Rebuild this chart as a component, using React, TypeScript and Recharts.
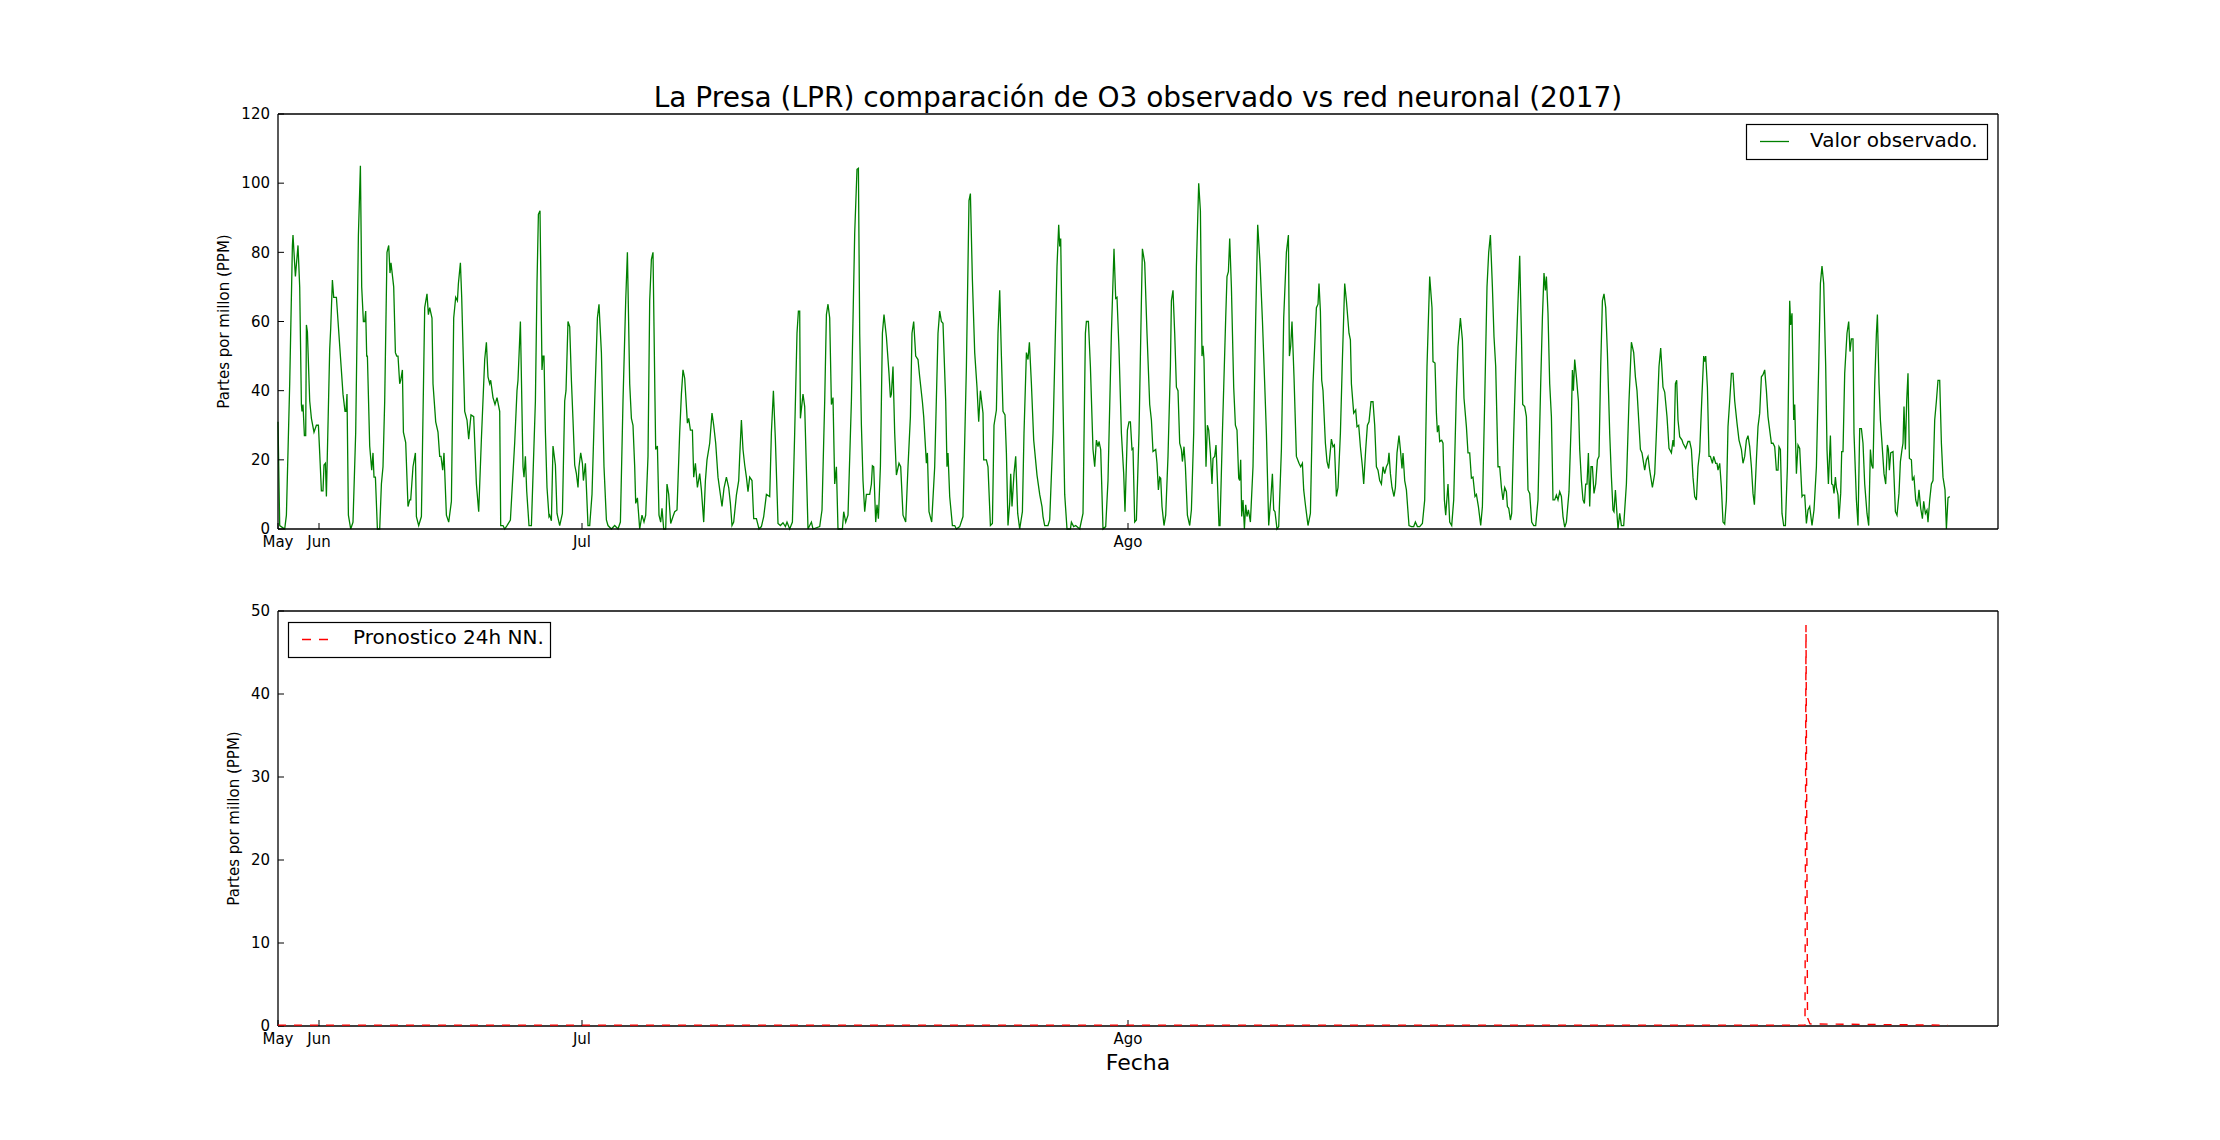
import React from 'react';
import { LineChart, Line, XAxis, YAxis } from 'recharts';

// x = sample index along the series, y = ozone (PPM)
const monthTicks = [0, 41, 304, 850];
const monthLabels = ['May', 'Jun', 'Jul', 'Ago'];
const obsTicks = [0, 20, 40, 60, 80, 100, 120];
const nnTicks = [0, 10, 20, 30, 40, 50];

const observado: [number, number][] = [
  [0.0,31],[1.7,1],[6.7,0],[8.4,4],[11.7,42],[14.4,82],[15.0,85],[17.4,73],[20.0,82],[21.7,70],[23.4,36],[24.0,34],[25.0,36],[26.4,27],[27.7,27],[28.4,59],[29.4,57],[31.7,37],[33.4,32],[36.0,28],[38.4,30],[40.4,30],[41.7,22],[43.4,11],[45.0,11],[46.0,18.5],[47.4,19],[48.4,9.4],[51.7,52],[52.7,58],[54.4,72],[55.7,67],[57.0,67],[58.4,67],[61.7,53],[65.0,39],[67.0,34],[68.0,34],[69.0,39],[70.4,4],[72.7,0],[75.0,2],[77.7,28],[80.4,85],[82.4,105],[83.7,70],[85.4,60],[86.7,60],[87.7,63],[88.7,50],[89.4,50],[91.7,24],[93.7,17],[95.0,22],[96.0,15],[97.4,15],[99.4,0],[101.7,0],[103.4,13],[105.0,18],[106.7,37],[109.0,80],[110.7,82],[112.0,74],[113.0,77],[115.7,70],[117.4,51],[118.7,50],[120.0,50],[121.7,42],[122.7,43],[124.4,46],[125.4,28],[127.7,25],[130.0,6.5],[131.7,8.4],[132.7,8.4],[135.0,18],[137.4,22],[138.4,3.6],[140.7,1],[143.4,3.6],[146.7,64],[149.0,68],[150.4,62],[151.7,64],[154.0,61],[155.0,42],[157.7,31],[160.0,28],[161.7,21],[163.0,21],[164.7,17],[166.0,22],[168.4,4],[170.7,2],[173.4,8],[175.7,61],[177.7,67],[179.4,66],[180.4,71],[182.4,77],[183.7,67],[186.7,34],[189.0,31.5],[190.7,26],[193.0,33],[195.7,32.5],[198.4,13],[200.7,5],[203.4,26],[206.7,49],[208.4,54],[210.0,44],[211.7,42],[212.7,43],[215.0,38],[217.0,36],[219.0,38],[221.7,34],[222.7,1],[225.0,1],[226.7,0],[229.0,1],[232.4,2.6],[236.7,25],[239.0,40],[240.0,43],[242.4,60],[245.0,18],[246.0,15],[247.4,21],[248.7,11],[251.0,1],[253.4,1],[257.4,37],[259.0,71],[260.4,91],[262.0,92],[264.0,46],[265.0,50],[266.0,50],[267.4,28],[269.0,12],[271.0,3.6],[271.7,4],[273.4,2.4],[275.0,24],[277.4,18.5],[279.0,4.5],[281.7,1],[284.4,4.5],
  [286.7,37],[288,40],[290,60],[291.7,58.5],[293.4,43],[295,31.5],[296.7,18.5],[298.4,16],[300,12],[301,18],[302.7,22],[304.4,19],[305.4,14],[307.4,19],[310,1],[311.7,1],[314,10],[316.7,37],[319.4,61],[321,65],[323.4,51],[326,18],[328.4,2.6],[330,1],[333.4,0],[336.7,1],[340,0],[342.4,2],[345,37],[347.7,66],[349.4,80],[351.7,42],[353.4,32],[355,30],[356.7,18],[357.7,7.4],[359.4,9],[361.7,0],[364,4],[366,2],[367.7,4],[370,21],[371.7,66],[373.4,78],[375,80],[377,37],[377.7,23],[379.4,24],[381,4],[382.7,2],[384,6],[385.7,0],[387.7,0],[389,13],[390.7,10],[392.7,1.6],[395,3.6],[396.7,5],[399,5.5],[401.7,28],[403.4,39],[405,46],[406.7,43.6],[409.4,30.6],[410.7,32],[412.4,28.6],[414.4,28.6],[415.7,15],[417.4,19],[419.4,12],[421.7,16],[423.4,11.3],[425.7,2],[427.4,14],[429,20],[431.7,24.8],[434,33.5],[435.7,30],[437.7,24.8],[440,15],[444,6.5],[446,11.8],[448.4,15],[450.7,12],[452.4,7.4],[454,1],[455.7,2],[458.4,9.8],[460.7,14],[461.7,21],[463.4,31.5],[465,23],[466.7,18.5],[468.4,15],[470,10.8],[471.7,15],[474,14],[475.7,3],[478.4,3],[481,0],[483.4,0.7],[485.7,3.6],[488.4,10],[491.7,9.4],[493.4,28],[495.4,40],[497.4,25.7],[500,1.6],[502.4,1],[505,1.8],[507.4,0.7],[509,2],[511.7,0],[514.4,2],[516.7,28],[519,56.6],[520.4,63],[521.7,63],[522.4,32],[525,39],[526.7,35.4],[530,0],[533.4,2],[535,0],[541.7,0.7],[544,5.5],[546.7,37],[548.4,62],[550,65],[551.7,61],[553.4,36],[555,38],[556.7,13],[558.4,18],[560,0],[564.4,0],[565.7,5],[567.7,2],[570,4],[573.4,37],[576.7,85.5],[579,104],[580.4,104.3],
  [581.7,56.6],[583.4,30],[585,14],[586.7,5],[588.4,10],[591.7,10],[593.4,13],[594.4,18.3],[595.7,18],[597.7,2],[599,7],[600.4,3],[602.4,18],[604.4,56.6],[606,62],[608.4,55.6],[611,45],[612.4,38],[613.4,39],[615,47],[616.7,27.7],[618.4,15.6],[621,19],[622.7,18],[625,4],[627.7,2],[630,18],[632.4,32.5],[634,56.6],[635.7,60],[637.7,50],[640,49],[641.7,44],[644.4,36.8],[645.7,32.5],[648.4,19],[649.4,22],[651,5],[653.7,2],[656.7,18],[660,56.6],[661.7,63],[663.4,60],[665,59.5],[667.7,37],[669,18],[670,22],[671.7,9.4],[674.4,1],[676.7,1],[678.4,0],[681.7,0.7],[685,3.6],[688.4,47],[691,95],[692.4,97],[694.4,72],[696.7,51],[699,41],[700.7,31],[702.4,40],[705,33.5],[705.7,20],[708.4,20],[710,18],[712.4,1],[714.4,1.6],[716,30],[718.4,34.4],[720,56.6],[721.7,69],[723.4,50],[725,34],[727,33],[728.4,22],[730,1],[731.7,7.4],[732.7,16],[734,6.5],[736,16],[737.7,21],[739.7,4.5],[741.7,0],[744.4,5],[746,27.7],[748.4,51],[750,49],[751.4,54],[753.4,42],[755.7,25.7],[759,15.6],[761.7,10],[764,6.5],[765,3.6],[766.7,1],[770,1],[771.7,2.6],[775,27.7],[779,76],[780.7,88],[781.7,81.7],[782.7,84],[785,37],[786.7,10],[789,0],[792.4,0],[793.4,2],[795.7,0.7],[797.7,1],[801.7,0],[805,4.5],[807.4,56.6],[808.4,60],[810.4,60],[812.4,47],[815,23],[816.7,18],[818.4,25.7],[820,23.8],[821,25.3],[822.7,23],[825,0],[827.7,0.7],[830,14],[833.4,56.6],[836,81],[837.7,66.7],[839,67],[841,52],[843.4,27.7],[845.7,16],[847,5],[849.4,28.6],[851,31],[852.4,31],[854,23],[855,23.3],[856.7,2],[858.4,2.6],[861,27.7],[863.4,66],[864.4,81],[866.7,77],[869,56.6],[871.7,36],
  [873.4,31.5],[875,22.4],[877.7,23],[879,19],[880.4,11.3],[881.7,15],[882.7,14.7],[884,6.5],[886,1],[887.7,4],[890,21],[892.4,47],[893.4,66],[895,69],[896.7,56.6],[898.4,41],[900,40],[901.7,24.8],[903.4,23],[904.4,19.5],[906,23.8],[907.4,18],[909.4,4],[911.7,1],[913.4,5.5],[915.7,27.7],[918.4,76],[920.7,100],[922.4,92],[924,50],[925,53],[926,49],[928,18],[929.4,30],[930.7,28.6],[932.4,22],[934,13],[935,20.4],[936.7,21],[938,24.3],[939.4,14],[941,1],[942,1],[944.4,27.7],[947.7,61],[949,73],[950.4,74.4],[951.7,84],[953.4,70],[955.7,41],[957.4,30],[959,28.6],[960.7,14.7],[961.7,14],[962.7,20],[963.7,3.6],[965,8.4],[966.4,0],[967.7,7],[969,3.6],[970.4,5.5],[972.4,2],[975,18],[977.7,61],[979.7,88],[982,77],[984.4,60.5],[986.7,42],[988.4,27.7],[990.7,1],[992.7,8.4],[994.4,16],[995.7,5.5],[997,5],[999,0],[1000.7,0.7],[1003.4,23],[1005.7,61],[1008.4,80],[1010.4,85],[1011.4,50],[1012.7,53],[1014,60],[1016,44],[1018.4,21],[1021,19],[1022.7,18],[1024.4,19],[1025.7,11.3],[1027.4,7],[1030,1],[1032.4,4.5],[1035,42],[1038.4,64],[1040,65],[1041,71],[1042.4,63],[1043.7,43],[1045,40],[1047.4,24.8],[1049,19.5],[1050.7,17.5],[1053.4,26],[1055,23.8],[1056.4,24.3],[1058.4,9.4],[1060,12],[1062.4,27.7],[1064.4,49],[1066.7,71],[1068.4,66],[1071,56.6],[1072.4,54.7],[1073.4,42],[1075.7,33.5],[1077.7,34.4],[1079,29.6],[1080.7,30],[1082.4,23.8],[1084.4,18],[1085.7,13],[1087.7,23],[1089.4,30],[1091,31],[1093,36.8],[1095,36.8],[1096.7,30],[1098.4,18],[1100,17],[1101.7,14],[1103.4,13],[1105,18],[1106.7,16],[1108.4,18],[1110,19],[1111,22],[1112.4,16],[1114,12],[1116,9.4],[1117.4,12],[1119,22],[1121,27],[1122.4,23],[1124,17.5],[1125,22],[1126.7,14],[1128.4,11.3],[1131,1],[1133.4,0.7],[1135.7,0.7],[1137.4,2],[1139.4,0.7],[1141.7,0.7],[1144.4,1.6],[1146.7,8.4],[1149,47],[1151.7,73],[1154,64],[1155,48.4],[1157,48],[1158.4,33.5],[1159.4,28],[1160.7,30],
  [1161.7,25.3],[1163.7,25.7],[1165,24.8],[1166.4,8.4],[1167.7,4],[1170,13],[1171.7,2],[1173.7,1],[1175.7,8.4],[1178.4,40],[1180,52.7],[1182.4,61],[1184.4,54.7],[1186,37.8],[1188.4,29.6],[1190,22],[1191.7,22],[1193.4,14.7],[1195,15],[1197,9.4],[1198.4,10],[1200.4,6.5],[1202.7,1],[1204.4,6.5],[1206.7,37],[1209,70],[1210.7,80],[1212.4,85],[1214.4,70],[1216,55.6],[1217.7,47],[1220,18],[1221.7,18],[1223.4,12],[1225,8.4],[1226.7,12],[1228.4,10.8],[1229.4,6.5],[1230.7,6],[1232.4,2.6],[1233.7,4.5],[1235.7,27.7],[1237.7,47],[1239.4,61],[1241.7,79],[1243.4,56.6],[1244.7,36],[1246.7,35.4],[1248.4,32.5],[1250,11.3],[1251.7,10.3],[1253.7,2],[1255.7,1],[1257.7,1],[1260,8.4],[1262.7,42],[1264.4,61],[1266,74],[1267.4,69],[1268.4,73],[1270,62.4],[1271.7,42],[1273.4,32.5],[1275,8.4],[1276.7,8.4],[1278.4,9.8],[1280,8.4],[1281.7,10.8],[1283.4,9.4],[1285,3.6],[1286.7,0.5],[1288.4,2],[1291,10.8],[1293.4,32.5],[1294.4,46],[1295.4,40],[1296.7,49],[1298.4,44],[1300.4,37],[1301.7,23],[1303.4,14],[1305,8.4],[1306.4,7.4],[1307.7,13],[1309,13],[1310.4,22],[1311.7,6.5],[1313,18],[1314.4,18],[1316,10.3],[1317.7,13],[1319.4,20],[1321,21],[1322.7,47],[1324.4,66],[1326,68],[1327.7,64],[1329.4,51],[1331.7,27.7],[1333.4,15],[1335,5.5],[1336,5],[1337.4,11.3],[1338.7,5.5],[1340,0],[1341.7,4.5],[1343.4,1],[1345.7,1],[1348.4,13],[1351,37],[1353.4,54],[1355.7,51],[1357.4,44],[1359,40],[1360.7,31.5],[1362.4,23],[1364,22],[1366.7,17],[1368.4,20],[1370,21],[1371.7,17],[1374.4,12],[1376.7,16],[1378.4,27.7],[1381,47],[1382.7,52.3],[1385,41],[1386.7,39.6],[1389,32.5],[1391,23.3],[1393.4,22],[1395,25.7],[1396,23.8],[1397.4,42],[1398.7,43],[1400,31.5],[1401.7,26.7],[1404,25.7],[1405,24.8],[1407.7,23.3],[1410,25.3],[1411.7,25.3],[1413.4,23],[1415,15],[1416.7,9.4],[1418.4,8.4],[1420,18],[1421.7,22.4],[1424,39],[1425.7,50],[1426.7,48.4],[1427.7,50],[1429.4,41],[1431,21],[1432.4,21],[1433.4,20],[1434.4,19],[1435.7,21],[1437.7,19],[1439,19],[1440,17],[1441.7,19],
  [1443.4,12],[1445,2],[1446.7,1.4],[1448.4,8.4],[1450,29.6],[1451.7,37],[1453.4,45],[1455,45],[1456.7,37],[1459,30.6],[1461,25.7],[1463.4,23],[1465,19],[1466.7,21],[1468.4,25.7],[1470,27],[1471.7,23.8],[1473.4,18],[1475,10.3],[1476.4,7],[1478.4,20],[1480,29.6],[1481.7,33.5],[1483.4,44],[1485,44.6],[1486.7,46],[1488.4,40],[1490,32.5],[1491.7,28.6],[1493.4,24.8],[1495,24.8],[1496.7,23.8],[1498.4,17],[1500,17],[1501,23.8],[1502.4,23],[1504,4.5],[1505.7,1],[1507.4,1],[1509.4,18],[1511.7,66],[1512.7,59],[1514,62.4],[1515.7,31.5],[1516.7,36],[1518.4,16],[1520,24.3],[1521.7,23.3],[1524,9.4],[1525,9.8],[1526.7,9.8],[1528.4,1.6],[1530,5.5],[1531.7,6.5],[1534,1],[1536,5.5],[1538.4,18],[1540.7,47],[1542.4,71],[1544,76],[1545.7,71],[1547.7,47],[1549,23],[1550.4,13],[1552.4,27],[1553.7,13],[1555,12.7],[1556,10.3],[1557.4,15],[1558.4,12],[1560,9.8],[1561,3],[1562.7,10.3],[1563.7,22.4],[1565,22.4],[1566.7,45],[1569,56.6],[1570.7,60],[1572,51.3],[1573.4,55],[1575,55],[1576,27.7],[1578.4,8.4],[1580,1],[1581.7,29],[1583.4,29],[1585,24.8],[1586.7,13],[1589,4.5],[1590.7,1],[1592.4,23],[1593.7,18.5],[1595,17.5],[1596.7,42],[1598.4,56.6],[1599.4,62],[1601,42],[1602.4,31.5],[1604.4,23],[1606,16],[1607.7,13],[1609.4,24.3],[1610.4,23],[1611.4,17],[1612.7,22],[1615,22.4],[1617.4,5],[1619,4],[1621,10.3],[1622.4,19.5],[1624,23],[1625,24.8],[1626,35.4],[1627.4,23],[1628.7,37],[1630,45],[1631.4,20.4],[1633.4,20],[1634.4,14],[1636,15],[1637.7,8.4],[1639.4,6.5],[1641,11.3],[1642.7,6],[1644.4,3],[1645.7,8],[1647.4,4.5],[1649,5.5],[1650,2],[1651.7,8.4],[1653.4,13],[1655,14],[1656.7,31.5],[1658.4,37],[1660,43],[1661.7,43],[1663.4,24.8],[1665,15],[1667,11.3],[1668.4,0],[1670,9],[1671.7,9.4],
];

// forecast sits just above zero except for one spike
const pronostico: [number, number][] = [
  [0, 0.1], [1527, 0.1], [1528, 48.3], [1529.5, 1], [1532, 0.25], [1670, 0.1],
];

const obsData = observado.map(([i, v]) => ({ i, v }));
const nnData = pronostico.map(([i, v]) => ({ i, v }));

const FONT = 'DejaVu Sans';
const X_DOMAIN: [number, number] = [0, 1720];
const axisLine = { stroke: '#000', strokeWidth: 1.3 };
const tickLine = { stroke: '#000', strokeWidth: 1 };
const tickStyle = { fontSize: 15, fill: '#000', fontFamily: FONT };
const fmtMonth = (v: number) => {
  const k = monthTicks.indexOf(v);
  return k >= 0 ? monthLabels[k] : '';
};

// visible = draw the frame/ticks; otherwise same geometry but invisible (overlay layer)
function renderAxes(yTicks: number[], yMax: number, visible: boolean) {
  const al = visible ? axisLine : false;
  const tl = visible ? tickLine : false;
  return [
    <XAxis
      key="xb"
      xAxisId="b"
      dataKey="i"
      type="number"
      domain={X_DOMAIN}
      ticks={monthTicks}
      tickFormatter={fmtMonth}
      interval={0}
      height={30}
      tickSize={-6}
      tickMargin={13}
      axisLine={al}
      tickLine={tl}
      tick={visible ? tickStyle : false}
    />,
    <XAxis
      key="xt"
      xAxisId="t"
      orientation="top"
      dataKey="i"
      type="number"
      domain={X_DOMAIN}
      ticks={monthTicks}
      interval={0}
      height={1}
      tickSize={-6}
      axisLine={al}
      tickLine={tl}
      tick={false}
    />,
    <YAxis
      key="yl"
      yAxisId="l"
      type="number"
      domain={[0, yMax]}
      ticks={yTicks}
      interval={0}
      width={278}
      tickSize={-6}
      tickMargin={14}
      axisLine={al}
      tickLine={tl}
      tick={visible ? tickStyle : false}
    />,
    <YAxis
      key="yr"
      yAxisId="r"
      orientation="right"
      type="number"
      domain={[0, yMax]}
      ticks={yTicks}
      interval={0}
      width={1}
      tickSize={-6}
      axisLine={al}
      tickLine={tl}
      tick={false}
    />,
  ];
}

// invisible series bound to an axis pair so that the axes get drawn
function hiddenSeries(xId: string, yId: string) {
  return (
    <Line
      key={`hidden-${xId}-${yId}`}
      xAxisId={xId}
      yAxisId={yId}
      type="linear"
      dataKey="v"
      stroke="transparent"
      strokeWidth={0}
      dot={false}
      activeDot={false}
      legendType="none"
      isAnimationActive={false}
    />
  );
}

const bottomMargin = { top: 30, right: 221, bottom: 84, left: 0 };

export default function App() {
  return (
    <div style={{ position: 'absolute', left: 0, top: 0, width: 2220, height: 1140, background: '#fff', overflow: 'hidden' }}>
      <div style={{ position: 'absolute', left: 0, top: 0 }}>
        <LineChart width={2220} height={580} data={obsData} margin={{ top: 113, right: 221, bottom: 21, left: 0 }}>
          {renderAxes(obsTicks, 120, true)}
          {hiddenSeries('t', 'r')}
          <Line
            xAxisId="b"
            yAxisId="l"
            type="linear"
            dataKey="v"
            stroke="#008000"
            strokeWidth={1.3}
            dot={false}
            activeDot={false}
            isAnimationActive={false}
          />
        </LineChart>
      </div>
      <div style={{ position: 'absolute', left: 0, top: 580 }}>
        <LineChart width={2220} height={560} data={nnData} margin={bottomMargin}>
          {renderAxes(nnTicks, 50, true)}
          {hiddenSeries('t', 'r')}
          {hiddenSeries('b', 'l')}
        </LineChart>
      </div>
      <div style={{ position: 'absolute', left: 0, top: 580, pointerEvents: 'none' }}>
        <LineChart width={2220} height={560} data={nnData} margin={bottomMargin}>
          {renderAxes(nnTicks, 50, false)}
          {hiddenSeries('t', 'r')}
          <Line
            xAxisId="b"
            yAxisId="l"
            type="linear"
            dataKey="v"
            stroke="#ff0000"
            strokeWidth={1.4}
            strokeDasharray="8 8"
            dot={false}
            activeDot={false}
            isAnimationActive={false}
          />
        </LineChart>
      </div>
      <svg width={2220} height={1140} style={{ position: 'absolute', left: 0, top: 0, pointerEvents: 'none' }} fontFamily={FONT}>
        <text x={1138} y={106.5} textAnchor="middle" fontSize={28} fill="#000">
          La Presa (LPR) comparación de O3 observado vs red neuronal (2017)
        </text>
        <text transform="translate(228.5,321.5) rotate(-90)" textAnchor="middle" fontSize={15} fill="#000">
          Partes por millon (PPM)
        </text>
        <text transform="translate(239,818.5) rotate(-90)" textAnchor="middle" fontSize={15} fill="#000">
          Partes por millon (PPM)
        </text>
        <text x={1138} y={1070} textAnchor="middle" fontSize={22} fill="#000">
          Fecha
        </text>
        <rect x={1746.5} y={124.5} width={241} height={35} fill="#fff" stroke="#000" strokeWidth={1.2} />
        <line x1={1760} x2={1789} y1={141.5} y2={141.5} stroke="#008000" strokeWidth={1.3} />
        <text x={1810} y={146.7} fontSize={20} fill="#000">Valor observado.</text>
        <rect x={288.5} y={622.5} width={262} height={35} fill="#fff" stroke="#000" strokeWidth={1.2} />
        <line x1={302} x2={328} y1={639.5} y2={639.5} stroke="#ff0000" strokeWidth={1.3} strokeDasharray="9 8" />
        <text x={353} y={644} fontSize={20} fill="#000">Pronostico 24h NN.</text>
      </svg>
    </div>
  );
}
